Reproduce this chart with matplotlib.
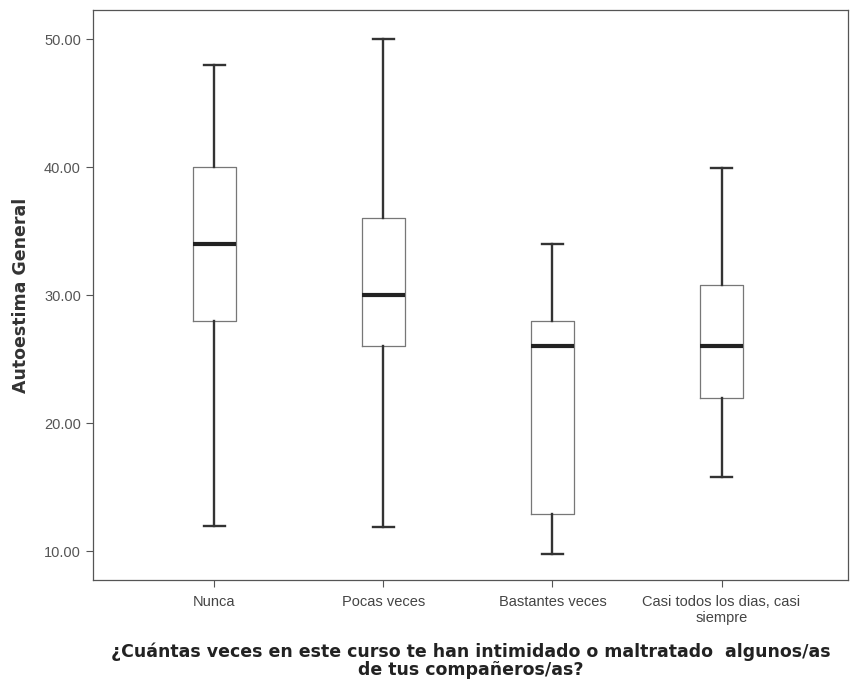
import matplotlib
matplotlib.use("Agg")
import matplotlib.pyplot as plt
from matplotlib.ticker import FormatStrFormatter

categories = ["Nunca", "Pocas veces", "Bastantes veces", "Casi todos los dias, casi\nsiempre"]
whislo = [12, 11.9, 9.8, 15.8]
q1 = [28, 26, 12.9, 22]
med = [34, 30, 26, 26]
q3 = [40, 36, 28, 30.8]
whishi = [48, 50, 34, 39.9]
yticks = [10, 20, 30, 40, 50]

plt.rcParams['font.family'] = ['Liberation Sans', 'DejaVu Sans']

fig = plt.figure(figsize=(8.5, 6.86), dpi=100)
ax = fig.add_axes([0.109, 0.1545, 0.889, 0.8305])

stats = []
for i, c in enumerate(categories):
    stats.append(dict(label=c, whislo=whislo[i], q1=q1[i], med=med[i],
                      q3=q3[i], whishi=whishi[i], fliers=[]))

ax.bxp(stats, positions=range(1, 5), widths=0.255, showfliers=False,
       boxprops=dict(color='#777777', linewidth=0.9),
       medianprops=dict(color='#222222', linewidth=3),
       whiskerprops=dict(color='#333333', linewidth=1.7),
       capprops=dict(color='#333333', linewidth=1.7))

ax.set_xlim(0.28, 4.75)
ax.set_ylim(7.75, 52.25)
ax.set_yticks(yticks)
ax.yaxis.set_major_formatter(FormatStrFormatter('%.2f'))
ax.tick_params(axis='both', colors='#555555', labelsize=10.5, length=5, width=0.8)
ax.tick_params(axis='x', pad=6)
for lbl in ax.get_xticklabels():
    lbl.set_color('#444444')
for s in ax.spines.values():
    s.set_color('#555555')
    s.set_linewidth(0.9)

ax.set_ylabel("Autoestima General", fontsize=12.5, fontweight='bold', color='#333333',
              labelpad=10, family='DejaVu Sans')
ax.set_xlabel("¿Cuántas veces en este curso te han intimidado o maltratado  algunos/as\nde tus compañeros/as?",
              fontsize=12.5, fontweight='bold', color='#222222', labelpad=12, linespacing=1.0,
              family='DejaVu Sans')

fig.savefig("out.png", dpi=100)
